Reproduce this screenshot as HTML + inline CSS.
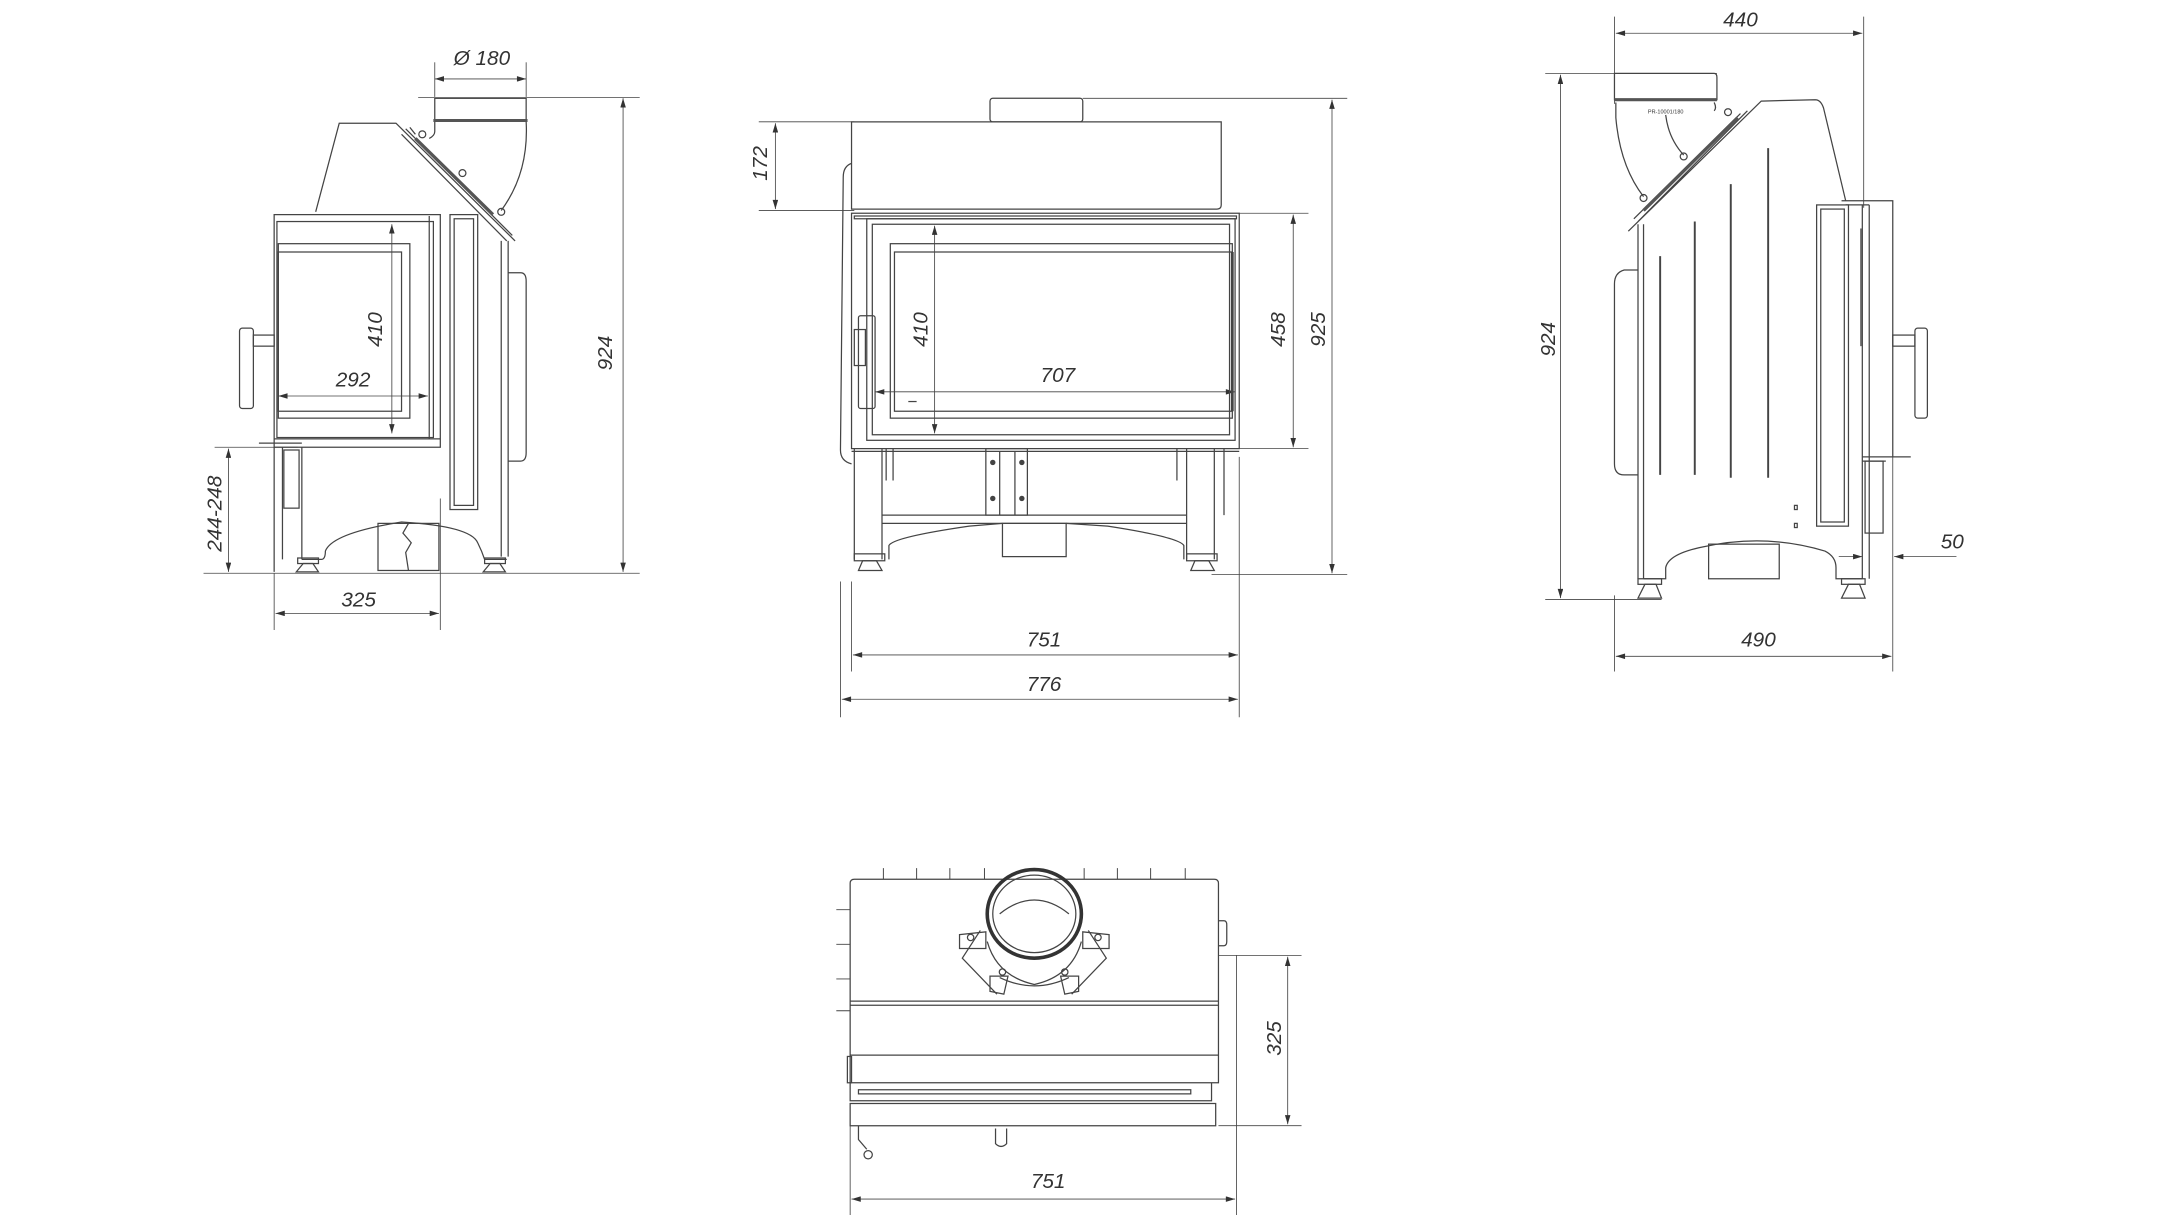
<!DOCTYPE html>
<html><head><meta charset="utf-8"><style>
html,body{margin:0;padding:0;background:#fff}
svg{display:block}
text{font-family:"Liberation Sans",sans-serif;font-style:italic;fill:#333;font-size:15px}
</style></head><body>
<svg width="2160" height="1215" viewBox="0 0 1560 877.5" xmlns="http://www.w3.org/2000/svg">
<defs>
<marker id="a" viewBox="0 0 10 6" refX="10" refY="3" markerWidth="10" markerHeight="4" markerUnits="userSpaceOnUse" orient="auto-start-reverse"><path d="M0,0 L10,3 L0,6z" fill="#333"/></marker>
</defs>
<rect width="1560" height="877.5" fill="#fff"/>
<g fill="none" stroke="#444" stroke-width="0.9">
<!-- ===== LEFT VIEW ===== -->
<g stroke-width="0.6">
<line x1="314" y1="45" x2="314" y2="70"/><line x1="380" y1="45" x2="380" y2="70"/>
<line x1="314" y1="57" x2="380" y2="57" marker-start="url(#a)" marker-end="url(#a)"/>
<line x1="302" y1="70.5" x2="462" y2="70.5"/>
<line x1="450" y1="71" x2="450" y2="413" marker-start="url(#a)" marker-end="url(#a)"/>
<line x1="147" y1="414" x2="462" y2="414"/>
<line x1="155" y1="323" x2="215" y2="323"/>
<line x1="165" y1="324" x2="165" y2="413" marker-start="url(#a)" marker-end="url(#a)"/>
<line x1="198" y1="414" x2="198" y2="455"/><line x1="318" y1="360" x2="318" y2="455"/>
<line x1="199" y1="443" x2="317" y2="443" marker-start="url(#a)" marker-end="url(#a)"/>
<line x1="283" y1="162" x2="283" y2="313" marker-start="url(#a)" marker-end="url(#a)"/>
<line x1="201" y1="286" x2="309" y2="286" marker-start="url(#a)" marker-end="url(#a)"/>
</g>
<rect x="314" y="71" width="66" height="16"/>
<line x1="313" y1="87" x2="381" y2="87" stroke-width="2.2" stroke="#555"/>
<path d="M314,88 L314,95 Q314,98 310,100"/>
<path d="M380,88 Q382,125 362,152"/>
<path d="M228,153 L245,89 L286,89 L372,174"/>
<path d="M293,93 L370,170 M290,97 L366,174 M296,92 L300,97"/>
<line x1="300" y1="100" x2="356" y2="155" stroke-width="2.4" stroke="#555"/>
<circle cx="305" cy="97" r="2.5"/><circle cx="334" cy="125" r="2.5"/><circle cx="362" cy="153" r="2.5"/>
<rect x="198" y="155" width="120" height="168"/>
<rect x="200" y="160" width="113" height="156"/>
<rect x="201" y="176" width="95" height="126"/>
<rect x="201" y="182" width="89" height="115"/>
<line x1="310" y1="156" x2="310" y2="317"/>
<line x1="198" y1="317" x2="318" y2="317"/>
<rect x="173" y="237" width="10" height="58" rx="2"/>
<rect x="183" y="242" width="15" height="8"/>
<line x1="187" y1="320" x2="218" y2="320"/>
<path d="M198,323 L198,413 M204,323 L204,404 M218,323 L218,404"/>
<rect x="205" y="325" width="11" height="42"/>
<rect x="325" y="155" width="20" height="213"/>
<rect x="328" y="158" width="14" height="207"/>
<path d="M362,174 L362,402 M367,174 L367,402"/>
<path d="M367,197 L376,197 Q380,197 380,203 L380,327 Q380,333 376,333 L367,333"/>
<path d="M218,404 L232,404 Q235,404 235,398 Q240,385 290,377 Q340,380 345,392 Q348,398 350,404 L366,404"/>
<rect x="273" y="378" width="44" height="34"/>
<path d="M295,378 L291,385 L297,392 L293,399 L295,412"/>
<rect x="215" y="403" width="15" height="4"/><path d="M219,407 L226,407 L230,413 L214,413z"/>
<rect x="350" y="403" width="15" height="4"/><path d="M354,407 L361,407 L365,413 L349,413z"/>

<!-- ===== MIDDLE VIEW ===== -->
<g stroke-width="0.6">
<line x1="548" y1="88" x2="617" y2="88"/><line x1="548" y1="152" x2="617" y2="152"/>
<line x1="560" y1="89" x2="560" y2="151" marker-start="url(#a)" marker-end="url(#a)"/>
<line x1="782" y1="71" x2="973" y2="71"/>
<line x1="962" y1="72" x2="962" y2="414" marker-start="url(#a)" marker-end="url(#a)"/>
<line x1="875" y1="415" x2="973" y2="415"/>
<line x1="895" y1="154" x2="945" y2="154"/><line x1="895" y1="324" x2="945" y2="324"/>
<line x1="934" y1="155" x2="934" y2="323" marker-start="url(#a)" marker-end="url(#a)"/>
<line x1="675" y1="163" x2="675" y2="313" marker-start="url(#a)" marker-end="url(#a)"/>
<line x1="632" y1="283" x2="892" y2="283" marker-start="url(#a)" marker-end="url(#a)"/>
<line x1="615" y1="420" x2="615" y2="485"/><line x1="895" y1="330" x2="895" y2="518"/>
<line x1="607" y1="420" x2="607" y2="518"/>
<line x1="616" y1="473" x2="894" y2="473" marker-start="url(#a)" marker-end="url(#a)"/>
<line x1="608" y1="505" x2="894" y2="505" marker-start="url(#a)" marker-end="url(#a)"/>
</g>
<rect x="715" y="71" width="67" height="17" rx="2"/>
<path d="M615,88 L882,88 L882,148 Q882,151 879,151 L615,151 Z"/>
<path d="M615,118 Q609,120 609,128 L607,325 Q607,333 615,335"/>
<rect x="615" y="154" width="280" height="170"/>
<rect x="617" y="156" width="276" height="2"/>
<rect x="626" y="158" width="266" height="160"/>
<path d="M630,162 L888,162 L888,314 L630,314 Z"/>
<rect x="643" y="176" width="247" height="126"/>
<rect x="646" y="182" width="244" height="115"/>
<line x1="890" y1="182" x2="890" y2="297" stroke-width="2"/>
<rect x="620" y="228" width="12" height="67" rx="1.5"/>
<rect x="617" y="238" width="8" height="26"/>
<path d="M656,290 L662,290"/>
<line x1="615" y1="326" x2="895" y2="326"/>
<path d="M617,324 L617,404 M637,324 L637,404 M640,324 L640,347 M645,324 L645,347"/>
<path d="M857,324 L857,404 M877,324 L877,404 M850,324 L850,347 M884,324 L884,372"/>
<rect x="712" y="324" width="30" height="48"/>
<line x1="722" y1="326" x2="722" y2="372"/><line x1="733" y1="326" x2="733" y2="372"/>
<circle cx="717" cy="334" r="1.5" fill="#444"/><circle cx="717" cy="360" r="1.5" fill="#444"/>
<circle cx="738" cy="334" r="1.5" fill="#444"/><circle cx="738" cy="360" r="1.5" fill="#444"/>
<line x1="637" y1="372" x2="857" y2="372"/><line x1="637" y1="378" x2="857" y2="378"/>
<path d="M642,404 L642,394 Q645,388 700,380 L724,378 M770,378 L800,380 Q852,388 855,394 L855,404"/>
<rect x="724" y="378" width="46" height="24"/>
<rect x="617" y="400" width="22" height="5"/><path d="M623,405 L633,405 L637,412 L620,412z"/>
<rect x="857" y="400" width="22" height="5"/><path d="M863,405 L873,405 L877,412 L860,412z"/>

<!-- ===== RIGHT VIEW ===== -->
<g stroke-width="0.6">
<line x1="1166" y1="12" x2="1166" y2="75"/><line x1="1346" y1="12" x2="1346" y2="150"/>
<line x1="1167" y1="24" x2="1345" y2="24" marker-start="url(#a)" marker-end="url(#a)"/>
<line x1="1116" y1="53" x2="1240" y2="53"/>
<line x1="1116" y1="433" x2="1200" y2="433"/>
<line x1="1127" y1="54" x2="1127" y2="432" marker-start="url(#a)" marker-end="url(#a)"/>
<line x1="1166" y1="430" x2="1166" y2="485"/><line x1="1367" y1="330" x2="1367" y2="485"/>
<line x1="1167" y1="474" x2="1366" y2="474" marker-start="url(#a)" marker-end="url(#a)"/>
<line x1="1328" y1="402" x2="1345" y2="402" marker-end="url(#a)"/>
<line x1="1413" y1="402" x2="1368" y2="402" marker-end="url(#a)"/>
</g>
<path d="M1166,53 L1238,53 Q1240,53 1240,56 L1240,72 L1166,72 Z"/>
<line x1="1166" y1="72" x2="1240" y2="72" stroke-width="2.2" stroke="#555"/>
<path d="M1167,74 L1167,85 Q1170,120 1187,142"/>
<path d="M1203,83 Q1205,100 1216,112"/>
<path d="M1238,74 Q1240,78 1238,80"/>
<path d="M1176,167 L1272,73 L1311,72 Q1315,72 1317,78 L1333,145 M1183,160 L1262,80 M1180,158 L1257,82"/>
<line x1="1187" y1="152" x2="1255" y2="85" stroke-width="2.4" stroke="#555"/>
<circle cx="1187" cy="143" r="2.5"/><circle cx="1216" cy="113" r="2.5"/><circle cx="1248" cy="81" r="2.5"/>
<path d="M1183,162 L1183,418 M1187,162 L1187,418"/>
<path d="M1183,195 L1173,195 Q1166,197 1166,205 L1166,335 Q1166,343 1173,343 L1183,343"/>
<g stroke-width="1.4"><line x1="1199" y1="185" x2="1199" y2="343"/><line x1="1224" y1="160" x2="1224" y2="343"/><line x1="1250" y1="133" x2="1250" y2="345"/><line x1="1277" y1="107" x2="1277" y2="345"/></g>
<path d="M1330,145 L1367,145 L1367,330 M1333,148 L1350,148"/>
<rect x="1312" y="148" width="23" height="232"/>
<rect x="1315" y="151" width="17" height="226"/>
<path d="M1345,148 L1345,418 M1350,148 L1350,418"/>
<line x1="1344" y1="165" x2="1344" y2="250"/>
<rect x="1383" y="237" width="9" height="65" rx="2"/>
<rect x="1367" y="242" width="16" height="8"/>
<path d="M1345,330 L1380,330 M1345,333 L1362,333"/>
<rect x="1347" y="333" width="13" height="52"/>
<rect x="1296" y="365" width="2" height="3"/><rect x="1296" y="378" width="2" height="3"/>
<path d="M1187,418 L1203,418 L1203,410 Q1205,400 1230,395 Q1275,385 1318,398 Q1326,402 1326,410 L1326,418 L1345,418"/>
<rect x="1234" y="393" width="51" height="25"/>
<rect x="1183" y="418" width="17" height="4"/><path d="M1188,422 L1196,422 L1200,432 L1183,432z"/>
<rect x="1330" y="418" width="17" height="4"/><path d="M1335,422 L1343,422 L1347,432 L1330,432z"/>

<!-- ===== BOTTOM VIEW ===== -->
<g stroke-width="0.6">
<line x1="880" y1="690" x2="940" y2="690"/><line x1="880" y1="813" x2="940" y2="813"/>
<line x1="930" y1="691" x2="930" y2="812" marker-start="url(#a)" marker-end="url(#a)"/>
<line x1="614" y1="813" x2="614" y2="878"/><line x1="893" y1="690" x2="893" y2="878"/>
<line x1="615" y1="866" x2="892" y2="866" marker-start="url(#a)" marker-end="url(#a)"/>
</g>
<path d="M617,635 L877,635 Q880,635 880,638 L880,782 L614,782 L614,638 Q614,635 617,635 Z"/>
<g stroke-width="0.7"><path d="M638,627 V635 M662,627 V635 M686,627 V635 M711,627 V635 M783,627 V635 M807,627 V635 M831,627 V635 M856,627 V635"/>
<path d="M604,657 H614 M604,682 H614 M604,707 H614 M604,730 H614"/></g>
<path d="M880,665 L884,665 Q886,665 886,668 L886,680 Q886,683 884,683 L880,683"/>
<line x1="614" y1="723" x2="880" y2="723"/><line x1="614" y1="726" x2="880" y2="726"/>
<line x1="614" y1="762" x2="880" y2="762"/>
<rect x="612" y="763" width="3" height="19"/>
<path d="M614,782 L614,795 L875,795 L875,782 M620,790 L860,790 L860,787 L620,787Z"/>
<path d="M614,797 L878,797 L878,813 L614,813 Z"/>
<path d="M620,813 L620,823 L626,830"/><circle cx="627" cy="834" r="3"/>
<path d="M719,815 L719,826 Q723,830 727,826 L727,815"/>
<path d="M722,660 Q747,640 772,660"/>
<path d="M708,672 L695,692 L720,718 M786,672 L799,692 L774,718 M722,706 Q747,718 772,706"/>
<path d="M693,675 L712,673 L712,685 L693,685 Z M801,675 L782,673 L782,685 L801,685 Z"/>
<path d="M715,705 L728,705 L725,718 L715,716 Z M779,705 L766,705 L769,718 L779,716 Z"/>
<circle cx="701" cy="677" r="2.3"/><circle cx="793" cy="677" r="2.3"/><circle cx="724" cy="702" r="2.3"/><circle cx="769" cy="702" r="2.3"/>
<path d="M713,680 Q720,705 747,711 Q774,705 781,680"/>
<ellipse cx="747" cy="660" rx="34" ry="32" stroke-width="2.6" stroke="#333"/>
<ellipse cx="747" cy="660" rx="30" ry="28"/>
</g>
<text x="348" y="47" text-anchor="middle">Ø 180</text>
<text x="255" y="279" text-anchor="middle">292</text>
<text transform="translate(276,238) rotate(-90)" text-anchor="middle">410</text>
<text transform="translate(442,255) rotate(-90)" text-anchor="middle">924</text>
<text transform="translate(160,371) rotate(-90)" text-anchor="middle">244-248</text>
<text x="259" y="438" text-anchor="middle">325</text>
<text transform="translate(554,118) rotate(-90)" text-anchor="middle">172</text>
<text transform="translate(670,238) rotate(-90)" text-anchor="middle">410</text>
<text x="764" y="276" text-anchor="middle">707</text>
<text transform="translate(928,238) rotate(-90)" text-anchor="middle">458</text>
<text transform="translate(957,238) rotate(-90)" text-anchor="middle">925</text>
<text x="754" y="467" text-anchor="middle">751</text>
<text x="754" y="499" text-anchor="middle">776</text>
<text x="1257" y="19" text-anchor="middle">440</text>
<text transform="translate(1123,245) rotate(-90)" text-anchor="middle">924</text>
<text x="1410" y="396" text-anchor="middle">50</text>
<text x="1270" y="467" text-anchor="middle">490</text>
<text x="1203" y="82" text-anchor="middle" style="font-size:4px;font-style:normal">PR-10001/180</text>
<text transform="translate(925,750) rotate(-90)" text-anchor="middle">325</text>
<text x="757" y="858" text-anchor="middle">751</text>
</svg>
</body></html>
